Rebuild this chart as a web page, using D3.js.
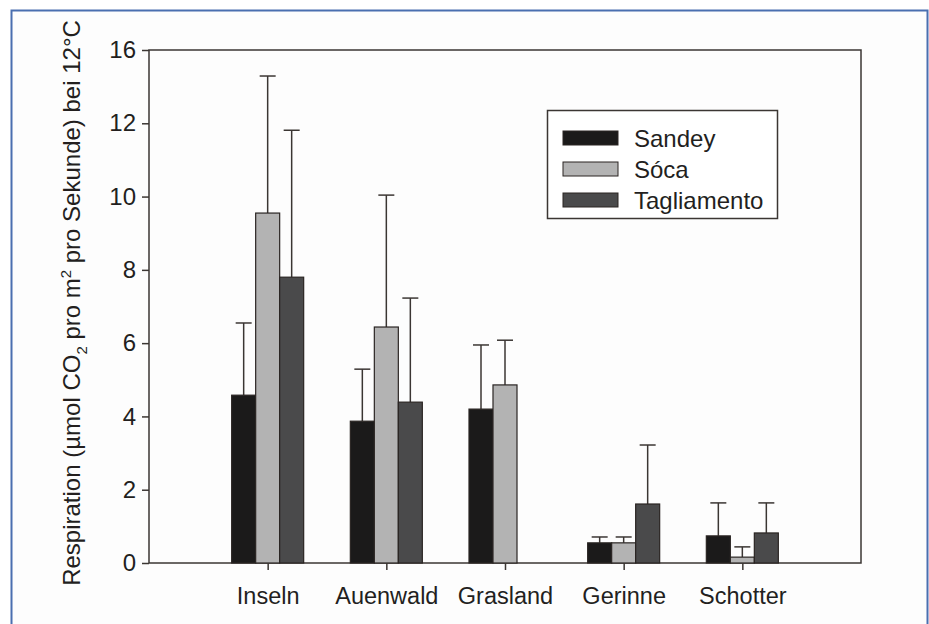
<!DOCTYPE html>
<html>
<head>
<meta charset="utf-8">
<script src="https://cdn.jsdelivr.net/npm/d3@7"></script>
<style>
  html, body { margin: 0; padding: 0; background: #ffffff; }
  svg { display: block; font-family: "Liberation Sans", Arial, sans-serif; }
</style>
</head>
<body>
<svg id="chart" width="929" height="624"></svg>
<script>
// ---- data ----
const categories = ["Inseln", "Auenwald", "Grasland", "Gerinne", "Schotter"];
const seriesNames = ["Sandey", "So\u0301ca", "Tagliamento"];
const sandeyValues = [4.58, 3.87, 4.20, 0.55, 0.74];
const sandeyErrors = [1.97, 1.42, 1.75, 0.16, 0.90];
const socaValues = [9.55, 6.44, 4.86, 0.55, 0.16];
const socaErrors = [3.74, 3.60, 1.22, 0.16, 0.28];
const tagliamentoValues = [7.80, 4.39, null, 1.61, 0.82];
const tagliamentoErrors = [4.01, 2.84, null, 1.61, 0.82];
const yTickValues = [0, 2, 4, 6, 8, 10, 12, 14];
const yTickLabels = ["0", "2", "4", "6", "8", "10", "12", "16"];
const yLabel = "Respiration (\u00b5mol CO";

const seriesColors = ["#1b1a1a", "#b3b3b3", "#4a4a4b"];

const series = [
  { name: seriesNames[0], values: sandeyValues, errors: sandeyErrors, color: seriesColors[0] },
  { name: seriesNames[1], values: socaValues, errors: socaErrors, color: seriesColors[1] },
  { name: seriesNames[2], values: tagliamentoValues, errors: tagliamentoErrors, color: seriesColors[2] }
];

// ---- layout ----
const svg = d3.select("#chart");
const pLeft = 149, pRight = 861, pTop = 50, pBottom = 563;
const axisColor = "#3b3633";
const textColor = "#231f1e";

// outer blue frame
svg.append("rect")
  .attr("x", 11.5).attr("y", 10.5)
  .attr("width", 916).attr("height", 640)
  .attr("fill", "#fdfdfd").attr("stroke", "#4a6fb0").attr("stroke-width", 2);

const x = d3.scalePoint().domain(categories).range([pLeft, pRight]).padding(1);
const y = d3.scaleLinear().domain([0, 14]).range([pBottom, pTop]);
const barW = 24;
const xs = d3.scaleBand().domain(d3.range(series.length)).range([-barW * 1.5, barW * 1.5]).padding(0);

// plot box
svg.append("rect")
  .attr("x", pLeft).attr("y", pTop)
  .attr("width", pRight - pLeft).attr("height", pBottom - pTop)
  .attr("fill", "none").attr("stroke", axisColor).attr("stroke-width", 1.5);

// bars
const g = svg.append("g");
series.forEach((s, si) => {
  const data = categories.map((c, i) => ({ c, v: s.values[i], e: s.errors[i] })).filter(d => d.v != null);
  const sg = g.append("g");
  sg.selectAll("line.err").data(data).join("line").attr("class", "err")
    .attr("x1", d => x(d.c) + xs(si) + barW / 2)
    .attr("x2", d => x(d.c) + xs(si) + barW / 2)
    .attr("y1", d => y(d.v))
    .attr("y2", d => y(d.v + d.e))
    .attr("stroke", axisColor).attr("stroke-width", 1.5);
  sg.selectAll("line.cap").data(data).join("line").attr("class", "cap")
    .attr("x1", d => x(d.c) + xs(si) + barW / 2 - 8)
    .attr("x2", d => x(d.c) + xs(si) + barW / 2 + 8)
    .attr("y1", d => y(d.v + d.e))
    .attr("y2", d => y(d.v + d.e))
    .attr("stroke", axisColor).attr("stroke-width", 1.5);
  sg.selectAll("rect").data(data).join("rect")
    .attr("x", d => x(d.c) + xs(si))
    .attr("y", d => y(d.v))
    .attr("width", xs.bandwidth())
    .attr("height", d => y(0) - y(d.v))
    .attr("fill", s.color)
    .attr("stroke", "#2a2523").attr("stroke-width", 1.2);
});

// y axis
const yAxis = d3.axisLeft(y).tickValues(yTickValues)
  .tickFormat((d, i) => yTickLabels[i]).tickSize(7).tickPadding(6);
const yg = svg.append("g").attr("transform", `translate(${pLeft},0)`).call(yAxis);
yg.select(".domain").remove();
yg.selectAll(".tick line").attr("stroke", axisColor).attr("stroke-width", 1.5);
yg.selectAll(".tick text").attr("fill", textColor).attr("font-size", 24)
  .attr("font-family", "'Liberation Sans', Arial, sans-serif");

// x axis
const xAxis = d3.axisBottom(x).tickSize(7).tickPadding(17);
const xg = svg.append("g").attr("transform", `translate(0,${pBottom})`).call(xAxis);
xg.select(".domain").remove();
xg.selectAll(".tick line").attr("stroke", axisColor).attr("stroke-width", 1.5);
xg.selectAll(".tick text").attr("fill", textColor).attr("font-size", 23.5)
  .attr("font-family", "'Liberation Sans', Arial, sans-serif");

// y label
const yl = svg.append("text")
  .attr("transform", `translate(80,303) rotate(-90)`)
  .attr("text-anchor", "middle")
  .attr("font-size", 24).attr("fill", textColor);
yl.append("tspan").text(yLabel);
yl.append("tspan").attr("font-size", 15).attr("dy", 7).text("2");
yl.append("tspan").attr("dy", -7).text(" pro m");
yl.append("tspan").attr("font-size", 15).attr("dy", -9).text("2");
yl.append("tspan").attr("dy", 9).text(" pro Sekunde) bei 12\u00b0C");

// legend
const lg = svg.append("g");
lg.append("rect").attr("x", 547.5).attr("y", 110.5).attr("width", 230).attr("height", 108)
  .attr("fill", "#ffffff").attr("stroke", axisColor).attr("stroke-width", 1.5);
const ly = d3.scalePoint().domain(seriesNames).range([138, 200]);
series.forEach(s => {
  lg.append("rect").attr("x", 563).attr("y", ly(s.name) - 7).attr("width", 55).attr("height", 14)
    .attr("fill", s.color).attr("stroke", "#2a2523").attr("stroke-width", 1);
  lg.append("text").attr("x", 634).attr("y", ly(s.name) + 8.5)
    .attr("font-size", 24).attr("fill", textColor).text(s.name);
});
</script>
</body>
</html>
